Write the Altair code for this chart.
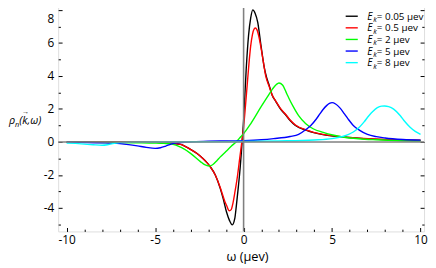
import altair as alt
import pandas as pd

# ---------------- data ----------------
series_names = ["0.05", "0.5", "2", "5", "8"]
series_colors = ["#000000", "#ff0000", "#00ff00", "#0000ff", "#00ffff"]

w_black = [-10, -8, -6, -5, -4.5, -4, -3.56, -3.0, -2.63, -2.3, -2.07, -1.89, -1.6, -1.33, -1.15,
           -0.96, -0.8, -0.64, -0.5, -0.41, -0.3, -0.22, -0.09, 0.0, 0.15, 0.28, 0.4, 0.52, 0.65,
           0.8, 0.98, 1.17, 1.3, 1.44, 1.61, 1.82, 2.08, 2.37, 2.63, 2.93, 3.56, 4.48, 5.6, 6.8, 8.0, 10.0]
r_black = [-0.01, -0.015, -0.02, -0.025, -0.04, -0.08, -0.15, -0.45, -0.7, -1.0, -1.25, -1.49, -2.0,
           -2.78, -3.45, -4.26, -4.75, -5.02, -4.65, -3.87, -2.75, -1.88, -0.1, 1.3, 4.46, 6.45, 7.5,
           8.0, 7.8, 7.24, 5.86, 4.5, 3.9, 3.45, 2.85, 2.45, 2.0, 1.65, 1.3, 1.0, 0.7, 0.44, 0.3,
           0.2, 0.14, 0.09]

w_red = [-10, -8, -6, -5, -4.5, -4, -3.56, -3.0, -2.63, -2.3, -2.07, -1.89, -1.6, -1.33, -1.2,
         -1.06, -0.96, -0.81, -0.7, -0.6, -0.5, -0.35, -0.22, -0.1, 0.0, 0.1, 0.2, 0.3, 0.4, 0.5,
         0.6, 0.67, 0.75, 0.89, 1.0, 1.1, 1.26, 1.44, 1.61, 1.82, 2.08, 2.37, 2.63, 2.93, 3.56,
         4.48, 5.6, 6.8, 8.0, 10.0]
r_red = [-0.01, -0.015, -0.02, -0.025, -0.04, -0.08, -0.15, -0.45, -0.7, -1.0, -1.25, -1.49, -2.0,
         -2.73, -3.15, -3.6, -3.85, -4.17, -4.1, -3.7, -3.1, -2.1, -1.0, 0.0, 0.9, 2.1, 3.4, 4.7,
         5.8, 6.5, 6.85, 6.9, 6.8, 6.25, 5.6, 4.95, 3.95, 3.38, 2.85, 2.47, 2.03, 1.68, 1.33, 1.03,
         0.72, 0.46, 0.31, 0.21, 0.15, 0.1]

w_green = [-10, -8, -6, -5, -4.5, -4.1, -3.5, -3.0, -2.44, -2.2, -1.95, -1.75, -1.5, -1.33, -1.0,
           -0.7, -0.42, -0.15, 0.0, 0.4, 1.0, 1.3, 1.63, 1.85, 2.0, 2.2, 2.44, 2.56, 2.8, 3.11, 3.5,
           3.93, 4.5, 5.04, 5.6, 6.5, 7.5, 8.5, 10.0]
r_green = [-0.02, -0.03, -0.05, -0.07, -0.09, -0.12, -0.35, -0.69, -1.19, -1.38, -1.46, -1.38,
           -1.12, -0.92, -0.58, -0.26, 0.0, 0.33, 0.5, 1.1, 2.15, 2.65, 3.2, 3.48, 3.57, 3.45, 2.92,
           2.65, 2.15, 1.59, 1.12, 0.8, 0.58, 0.42, 0.3, 0.19, 0.13, 0.09, 0.06]

w_blue = [-10, -9, -8, -7, -6.5, -6, -5.5, -5.0, -4.7, -4.4, -4.1, -3.8, -3.5, -3.0, -2.0, -1.0,
          0.0, 1.0, 1.7, 2.63, 3.11, 3.56, 3.8, 4.11, 4.3, 4.48, 4.69, 4.85, 5.0, 5.2, 5.43, 5.7,
          5.9, 6.2, 6.54, 7.0, 7.5, 8.0, 9.0, 10.0]
r_blue = [-0.02, -0.03, -0.05, -0.1, -0.16, -0.24, -0.33, -0.39, -0.35, -0.25, -0.13, -0.06, -0.03,
          0.01, 0.04, 0.06, 0.08, 0.13, 0.2, 0.33, 0.46, 0.78, 1.0, 1.39, 1.68, 1.95, 2.2, 2.33,
          2.38, 2.3, 2.08, 1.7, 1.4, 1.0, 0.72, 0.46, 0.32, 0.24, 0.15, 0.11]

w_cyan = [-10, -9.5, -9, -8.5, -8.0, -7.7, -7.4, -7.0, -6.5, -5, -3, -1, 0, 2, 4, 5, 5.6, 5.94,
          6.2, 6.54, 6.8, 7.08, 7.3, 7.56, 7.8, 7.97, 8.2, 8.48, 8.86, 9.1, 9.41, 9.7, 10.0]
r_cyan = [-0.06, -0.09, -0.13, -0.17, -0.2, -0.17, -0.1, -0.04, -0.01, 0.0, 0.01, 0.02, 0.03,
          0.06, 0.12, 0.2, 0.33, 0.46, 0.6, 0.89, 1.2, 1.59, 1.85, 2.08, 2.17, 2.18, 2.14, 1.99,
          1.59, 1.25, 0.89, 0.64, 0.46]

x_label_ticks = [-10, -5, 0, 5, 10]
x_minor_ticks = [v for v in range(-10, 11) if v % 5 != 0]
y_label_ticks = [-4, -2, 0, 2, 4, 6, 8]
y_minor_ticks = [-5, -3, -1, 1, 3, 5, 7]

x_title = "ω (μev)"
legend_rest = ["= 0.05 μev", "= 0.5 μev", "= 2 μev", "= 5 μev", "= 8 μev"]

# ---------------- layout ----------------
FONT = "Open Sans"
W, H = 372, 232
xscale = alt.Scale(domain=[-10.48, 10.2], nice=False, zero=False)
yscale = alt.Scale(domain=[-5.42, 8.4], nice=False, zero=False)

tick_common = dict(grid=False, domain=False, labels=False, tickColor="black",
                   tickWidth=1, title=None)

x_axes = [
    alt.Axis(orient="bottom", values=x_label_ticks, ticks=False, tickSize=0, domain=False,
             grid=False, labelExpr="'' + datum.value", labelFont=FONT, labelFontSize=12,
             labelColor="black", labelPadding=3, labelFlush=False, labelOverlap=False,
             title=x_title, titleFont=FONT, titleFontSize=13, titleFontWeight="normal",
             titleColor="black", titleX=192, titleY=30, titleBaseline="alphabetic",
             titleAlign="center"),
    alt.Axis(orient="top", offset=-H, values=x_label_ticks, tickSize=4, **tick_common),
    alt.Axis(orient="top", offset=-H, values=x_minor_ticks, tickSize=2.3, **tick_common),
    alt.Axis(orient="bottom", offset=-H, values=x_label_ticks, tickSize=4, **tick_common),
    alt.Axis(orient="bottom", offset=-H, values=x_minor_ticks, tickSize=2.3, **tick_common),
]
y_axes = [
    alt.Axis(orient="left", values=y_label_ticks, ticks=False, tickSize=0, domain=False,
             grid=False, labelExpr="'' + datum.value", labelFont=FONT, labelFontSize=12,
             labelColor="black", labelPadding=4.5, labelFlush=False, labelOverlap=False,
             labelBaseline={"condition": {"test": "datum.value === 8", "value": "top"},
                            "value": "middle"},
             labelOffset={"condition": {"test": "datum.value === 8", "value": 3.5},
                          "value": 0},
             title=None),
    alt.Axis(orient="right", offset=-W, values=y_label_ticks, tickSize=4, **tick_common),
    alt.Axis(orient="right", offset=-W, values=y_minor_ticks, tickSize=2.3, **tick_common),
    alt.Axis(orient="left", offset=-W, values=y_label_ticks, tickSize=4, **tick_common),
    alt.Axis(orient="left", offset=-W, values=y_minor_ticks, tickSize=2.3, **tick_common),
]

curves = [(w_black, r_black), (w_red, r_red), (w_green, r_green), (w_blue, r_blue), (w_cyan, r_cyan)]

layers = []
for i, ((ws, rs), color) in enumerate(zip(curves, series_colors)):
    d = pd.DataFrame({"w": ws, "rho": rs})
    layers.append(
        alt.Chart(d).mark_line(color=color, strokeWidth=1.4, interpolate="monotone", clip=True)
        .encode(x=alt.X("w:Q", scale=xscale, axis=x_axes[i]),
                y=alt.Y("rho:Q", scale=yscale, axis=y_axes[i]))
    )

zero = pd.DataFrame({"z": [0]})
layers.append(alt.Chart(zero).mark_rule(color="#808080", strokeWidth=1.6)
              .encode(x=alt.X("z:Q", scale=xscale, axis=None)))
layers.append(alt.Chart(zero).mark_rule(color="#808080", strokeWidth=1.6)
              .encode(y=alt.Y("z:Q", scale=yscale, axis=None)))


def txt(s, x, y, size, style="normal", align="left"):
    return alt.Chart(pd.DataFrame({"t": [s]})).mark_text(
        font=FONT, fontSize=size, fontStyle=style, align=align, baseline="alphabetic",
        color="black").encode(text="t:N", x=alt.value(x), y=alt.value(y))


# legend
for i, (rest, color) in enumerate(zip(legend_rest, series_colors)):
    yc = 13.2 + 11.8 * i
    layers.append(alt.Chart(pd.DataFrame({"a": [0]})).mark_rule(color=color, strokeWidth=1.4)
                  .encode(x=alt.value(292.3), x2=alt.value(304.6), y=alt.value(yc)))
    layers.append(txt("E", 314.3, yc + 3.6, 10.2, "italic"))
    layers.append(txt("k", 320.3, yc + 6.0, 7.3, "italic"))
    layers.append(txt(rest, 324.0, yc + 3.6, 10))

# y title  rho_n(k->, omega)
layers.append(txt("ρ", -50.0, 122.5, 11, "italic"))
layers.append(txt("n", -44.0, 125.5, 7.5, "italic"))
layers.append(txt("(k,ω)", -39.6, 122.5, 11, "italic"))
layers.append(txt("→", -33.4, 112.5, 7.5, "normal", "center"))

chart = alt.layer(*layers).resolve_axis(x="independent", y="independent").properties(
    width=W, height=H,
    autosize=alt.AutoSizeParams(type="none"),
    padding={"left": 51, "top": -7, "right": 4, "bottom": 35},
).configure_view(stroke="black", strokeWidth=1).configure(background="white")

chart.save("out.html", embed_options={"renderer": "svg", "actions": False})
